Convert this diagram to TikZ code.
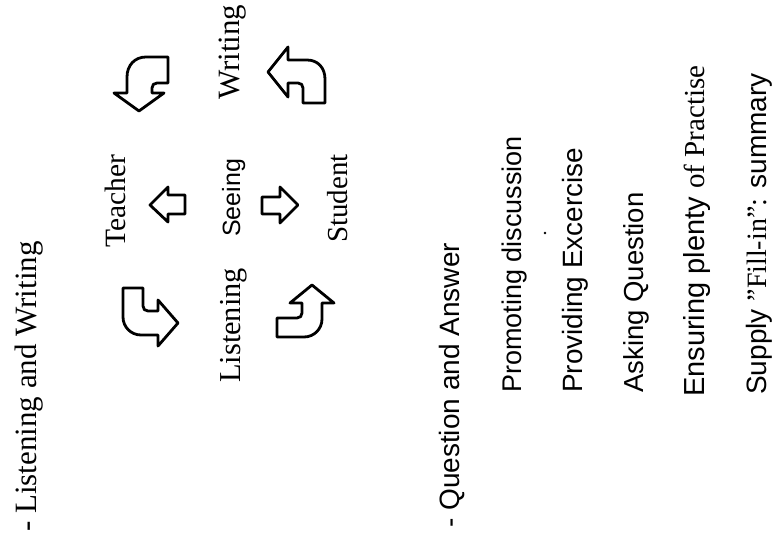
\documentclass[tikz,border=0pt]{standalone}
\usepackage{fontspec}
\setmainfont{Liberation Serif}
\setsansfont{Liberation Sans}
\begin{document}
\begin{tikzpicture}[x=1pt,y=-1pt,
  lbl/.style={rotate=90, anchor=base west, inner sep=0pt, font=\fontsize{30}{36}\selectfont},
  item/.style={rotate=90, anchor=base west, inner sep=0pt, font=\fontsize{28}{34}\selectfont\sffamily},
  blockarrow/.style={draw=black, line width=2.8pt, fill=white, line join=round}]
\useasboundingbox (0,0) rectangle (781,540);

% left heading
\node[lbl, font=\fontsize{31}{36}\selectfont] (h1) at (36,532) {- Listening and Writing};

% diagram labels
\node[lbl, font=\fontsize{29.5}{36}\selectfont] (teacher) at (125,248) {Teacher};
\node[lbl, font=\fontsize{25}{30}\selectfont\sffamily] (seeing) at (240,237) {Seeing};
\node[lbl, font=\fontsize{29}{36}\selectfont] (student) at (347,243) {Student};
\node[lbl, font=\fontsize{31}{36}\selectfont] (writing) at (239,100) {Writing};
\node[lbl, font=\fontsize{30.4}{36}\selectfont] (listening) at (240,383) {Listening};

% right heading and items
\node[item] (h2) at (459,528) {- Question and Answer};
\node[item, font=\fontsize{27}{34}\selectfont\sffamily] (i1) at (521,393) {Promoting discussion};
\node[item, font=\fontsize{27.9}{34}\selectfont\sffamily] (i2) at (582,393) {Providing Excercise};
\node[item, font=\fontsize{27.5}{34}\selectfont\sffamily] (i3) at (643,393) {Asking Question};
\node[item, font=\fontsize{29}{34}\selectfont\sffamily] (i4) at (704,397) {Ensuring plenty {\rmfamily of Practise}};
\node[item] (i5) at (766,395) {Supply {\rmfamily "Fill-in":} summary};
\fill (545,233) circle (1.4);

% bent arrow top-left (points down)
\draw[blockarrow] (168,57) -- (146,57) .. controls (135,57) and (127,65) .. (127,77)
  -- (127,93) -- (114,93) -- (139,111) -- (164,93) -- (152,93) -- (152,88)
  .. controls (152,85) and (154,83) .. (157,83) -- (168,83) -- cycle;

% bent arrow near Writing (points left)
\draw[blockarrow] (288,60) -- (307,60) .. controls (318,60) and (325,68) .. (325,79)
  -- (325,103) -- (303,103) -- (303,88) .. controls (303,85) and (301,83) .. (298,83)
  -- (288,83) -- (288,97) -- (268,72) -- (288,47) -- cycle;

% bent arrow bottom-left (points right)
\draw[blockarrow] (123,288) -- (143,288) -- (143,306) .. controls (143,309) and (145,311) .. (148,311)
  -- (158,311) -- (158,300) -- (178,323) -- (158,346) -- (158,335) -- (141,335)
  .. controls (131,335) and (123,327) .. (123,317) -- cycle;

% bent arrow bottom-right (points up)
\draw[blockarrow] (277,318) -- (297,318) .. controls (300,318) and (302,316) .. (302,313)
  -- (302,303) -- (290,303) -- (312,285) -- (334,303) -- (322,303) -- (322,319)
  .. controls (322,329) and (314,337) .. (304,337) -- (277,337) -- cycle;

% small straight arrows
\draw[blockarrow] (185,195) -- (168,195) -- (168,187) -- (150,205) -- (168,222) -- (168,214) -- (185,214) -- cycle;
\draw[blockarrow] (262,197) -- (280,197) -- (280,187) -- (298,205) -- (280,223) -- (280,214) -- (262,214) -- cycle;
\end{tikzpicture}
\end{document}
